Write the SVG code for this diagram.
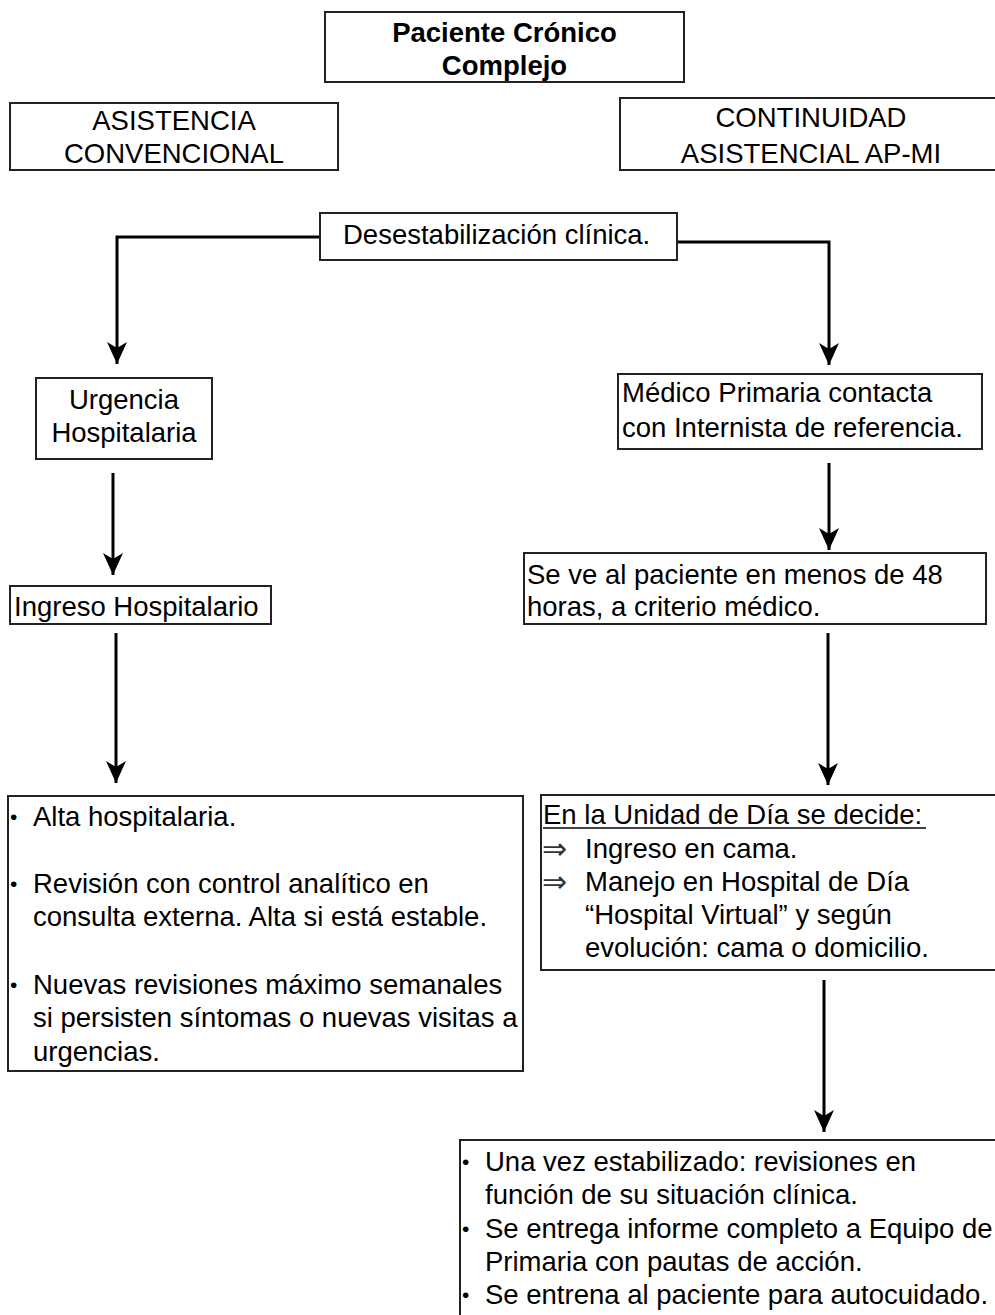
<svg xmlns="http://www.w3.org/2000/svg" width="995" height="1315" viewBox="0 0 995 1315">
<defs>
<style>
.box{fill:#fff;stroke:#222;stroke-width:2}
.t{font-family:"Liberation Sans",Arial,sans-serif;font-size:27.5px;fill:#000}
.b{font-weight:bold}
.c{text-anchor:middle}
.bul{font-family:"Liberation Sans",Arial,sans-serif;font-size:21px;fill:#000}
.ar{font-family:"DejaVu Sans","Liberation Sans",sans-serif;font-size:30px;fill:#333}
.con{fill:none;stroke:#000;stroke-width:3;marker-end:url(#ah)}
</style>
<marker id="ah" viewBox="0 0 22 22" refX="22" refY="11" markerWidth="22" markerHeight="22" markerUnits="userSpaceOnUse" orient="auto">
<path d="M0,1 L22,11 L0,21 L6,11 Z" fill="#000"/>
</marker>
</defs>
<rect width="995" height="1315" fill="#fff"/>

<g id="connectors">
<path class="con" d="M320,237 H117 V364"/>
<path class="con" d="M677,242 H829 V365"/>
<path class="con" d="M113,473 V575"/>
<path class="con" d="M116,633 V783"/>
<path class="con" d="M829,463 V550"/>
<path class="con" d="M828,633 V785"/>
<path class="con" d="M824,980 V1132"/>
</g>

<g id="titulo">
<rect class="box" x="325" y="12" width="359" height="70"/>
<text class="t b c" x="504.5" y="42">Paciente Crónico</text>
<text class="t b c" x="504.5" y="75">Complejo</text>
</g>

<g id="asistencia-convencional">
<rect class="box" x="10" y="103" width="328" height="67"/>
<text class="t c" x="174" y="130">ASISTENCIA</text>
<text class="t c" x="174" y="163">CONVENCIONAL</text>
</g>

<g id="continuidad-asistencial">
<rect class="box" x="620" y="98" width="378" height="72"/>
<text class="t c" x="811" y="127">CONTINUIDAD</text>
<text class="t c" x="811" y="163">ASISTENCIAL AP-MI</text>
</g>

<g id="desestabilizacion">
<rect class="box" x="320" y="213" width="357" height="47"/>
<text class="t" x="343" y="244">Desestabilización clínica.</text>
</g>

<g id="urgencia">
<rect class="box" x="36" y="378" width="176" height="81"/>
<text class="t c" x="124" y="409">Urgencia</text>
<text class="t c" x="124" y="442">Hospitalaria</text>
</g>

<g id="ingreso">
<rect class="box" x="10" y="586" width="261" height="38"/>
<text class="t" x="14" y="616">Ingreso Hospitalario</text>
</g>

<g id="alta">
<rect class="box" x="8" y="796" width="515" height="275"/>
<text class="bul" x="10" y="824">•</text>
<text class="t" x="33" y="826">Alta hospitalaria.</text>
<text class="bul" x="10" y="891">•</text>
<text class="t" x="33" y="893">Revisión con control analítico en</text>
<text class="t" x="33" y="926">consulta externa. Alta si está estable.</text>
<text class="bul" x="10" y="992">•</text>
<text class="t" x="33" y="994">Nuevas revisiones máximo semanales</text>
<text class="t" x="33" y="1027">si persisten síntomas o nuevas visitas a</text>
<text class="t" x="33" y="1061">urgencias.</text>
</g>

<g id="medico-primaria">
<rect class="box" x="618" y="374" width="364" height="75"/>
<text class="t" x="622" y="402">Médico Primaria contacta</text>
<text class="t" x="622" y="437">con Internista de referencia.</text>
</g>

<g id="se-ve-paciente">
<rect class="box" x="524" y="553" width="462" height="71"/>
<text class="t" x="527" y="584">Se ve al paciente en menos de 48</text>
<text class="t" x="527" y="616">horas, a criterio médico.</text>
</g>

<g id="unidad-dia">
<rect class="box" x="541" y="795" width="460" height="175"/>
<text class="t" x="543" y="824">En la Unidad de Día se decide:</text>
<line x1="543" y1="828" x2="926" y2="828" stroke="#000" stroke-width="1.5"/>
<text class="ar" x="542" y="859">⇒</text>
<text class="t" x="585" y="858">Ingreso en cama.</text>
<text class="ar" x="542" y="892">⇒</text>
<text class="t" x="585" y="891">Manejo en Hospital de Día</text>
<text class="t" x="585" y="924">“Hospital Virtual” y según</text>
<text class="t" x="585" y="957">evolución: cama o domicilio.</text>
</g>

<g id="estabilizado">
<rect class="box" x="460" y="1140" width="545" height="185"/>
<text class="bul" x="462" y="1169">•</text>
<text class="t" x="485" y="1171">Una vez estabilizado: revisiones en</text>
<text class="t" x="485" y="1204">función de su situación clínica.</text>
<text class="bul" x="462" y="1236">•</text>
<text class="t" x="485" y="1238">Se entrega informe completo a Equipo de</text>
<text class="t" x="485" y="1271">Primaria con pautas de acción.</text>
<text class="bul" x="462" y="1302">•</text>
<text class="t" x="485" y="1304">Se entrena al paciente para autocuidado.</text>
</g>
</svg>
